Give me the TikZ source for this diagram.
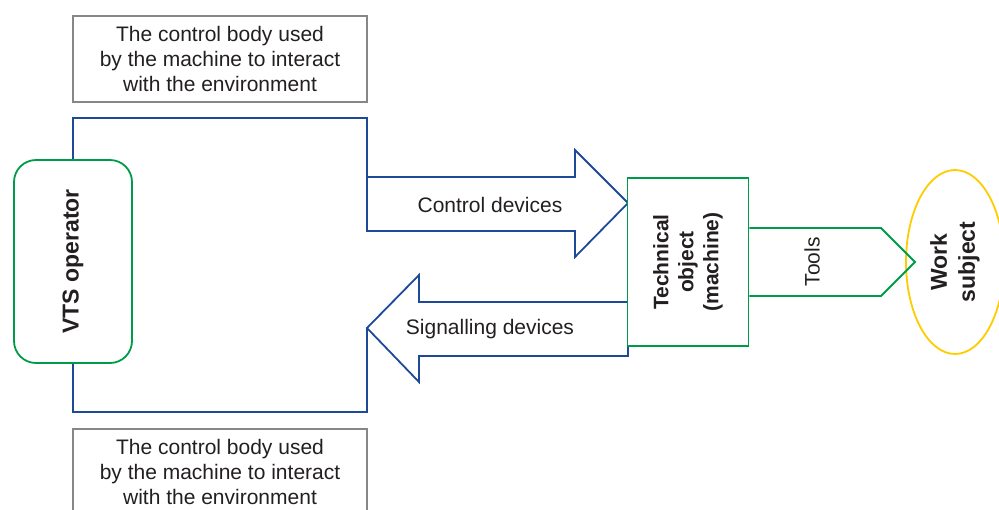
\documentclass[tikz,border=0pt]{standalone}
\usepackage{fontspec}
\setmainfont{Liberation Sans}
\usetikzlibrary{shapes.geometric}

\definecolor{lineblue}{RGB}{30,72,152}
\definecolor{boxgreen}{RGB}{0,155,72}
\definecolor{subjyellow}{RGB}{255,204,0}
\definecolor{notegray}{RGB}{135,135,135}
\definecolor{inkgray}{RGB}{35,31,32}

\begin{document}
\begin{tikzpicture}[
    x=1pt, y=-1pt,
    every node/.style={text=inkgray},
    note/.style={draw=notegray, line width=1.8pt, minimum width=294pt,
                 minimum height=86pt, align=center, inner sep=0pt,
                 font=\fontsize{21}{25}\selectfont},
    actor/.style={draw=boxgreen, line width=1.8pt, align=center, inner sep=0pt,
                  font=\fontsize{21}{25}\selectfont\bfseries},
    bigarr/.style={draw=lineblue, line width=1.8pt, line join=miter},
    link/.style={draw=lineblue, line width=1.8pt},
    lbl/.style={font=\fontsize{21}{25}\selectfont}
]
\clip (0,0) rectangle (999,509);

% notes about the control body
\node[note] (noteTop) at (220,59) {The control body used\\by the machine to interact\\with the environment};
\node[note] (noteBot) at (220,472) {The control body used\\by the machine to interact\\with the environment};

% operator and machine
\node[actor, rounded corners=22pt, minimum width=118pt, minimum height=203pt,
      font=\fontsize{23}{28}\selectfont\bfseries] (opr) at (73,261.5) {};
\node[rotate=90, font=\fontsize{23}{28}\selectfont\bfseries] (oprLbl) at (opr.center) {VTS operator};

% big arrows
\draw[bigarr] (367,177) coordinate (ctlTail) -- (575,177) -- (575,150) -- (628,203) coordinate (ctlTip)
    -- (575,257) -- (575,231) -- (367,231) -- cycle;
\node[lbl] (ctlLbl) at (490,205) {Control devices};
\draw[bigarr] (628,302) -- (419,302) -- (419,275) -- (367,328) coordinate (sigTip)
    -- (419,382) -- (419,356) -- (628,356) -- cycle;
\node[lbl] (sigLbl) at (490,329) {Signalling devices};

\node[actor, minimum width=121pt, minimum height=168pt, fill=white] (tech) at (688,262) {};
\node[rotate=90, font=\fontsize{21}{25}\selectfont\bfseries, align=center] (techLbl) at (tech.center) {Technical\\object\\(machine)};

% work subject
\node[ellipse, draw=subjyellow, line width=1.8pt, minimum width=98pt, minimum height=184pt, inner sep=0pt] (subj) at (955,262) {};
\node[rotate=90, font=\fontsize{23}{28}\selectfont\bfseries, align=center] (subjLbl) at (subj.center) {Work\\subject};

% tools
\draw[draw=boxgreen, line width=1.8pt, line join=miter] (tech.east |- 0,228) -- (881,228) -- (915,262) coordinate (toolTip)
    -- (881,296) -- (tech.east |- 0,296);
\node[rotate=90, lbl] (toolLbl) at (812,262) {Tools};

% connectors
\draw[link] (ctlTail) -- ++(0,-59) -| (opr.north);
\draw[link] (sigTip) -- ++(0,84) -| (opr.south);
\end{tikzpicture}
\end{document}
